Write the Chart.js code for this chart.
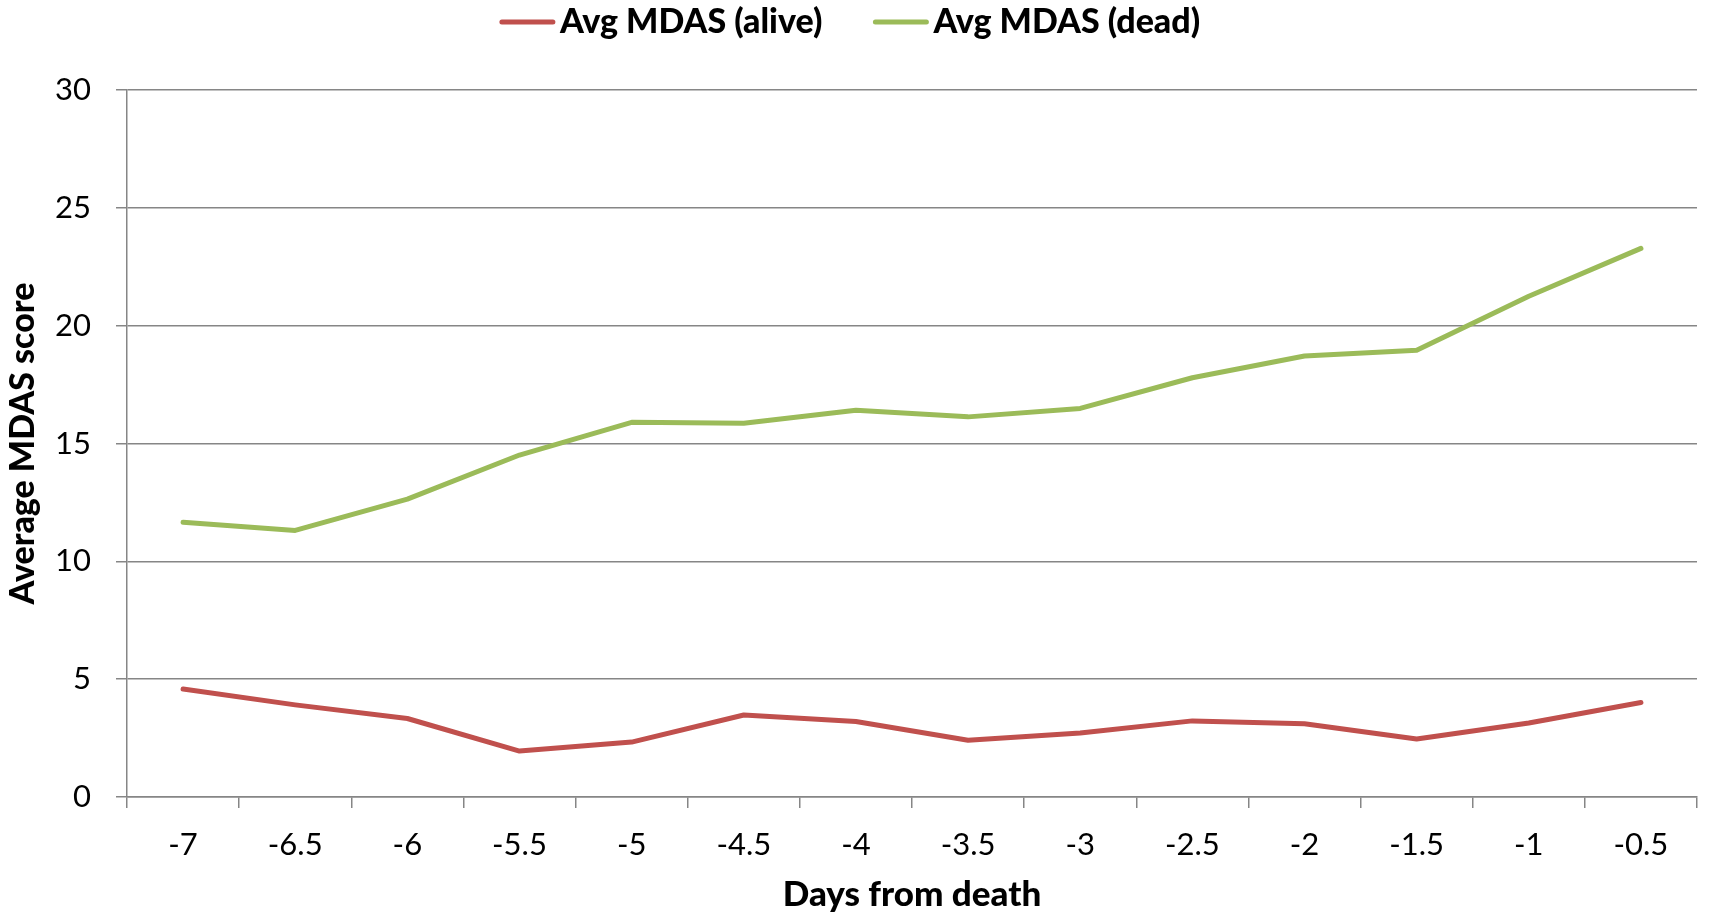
<!DOCTYPE html>
<html>
<head>
<meta charset="utf-8">
<title>Average MDAS score by days from death</title>
<script src="https://cdn.jsdelivr.net/npm/chart.js@4/dist/chart.umd.min.js"></script>
<style>
  html, body { margin: 0; padding: 0; background: #ffffff; }
  #wrap { width: 1710px; height: 916px; position: relative; }
</style>
</head>
<body>
<div id="wrap"><canvas id="chart"></canvas></div>
<script>
// Days before death (x categories)
const days = ['-7', '-6.5', '-6', '-5.5', '-5', '-4.5', '-4', '-3.5', '-3', '-2.5', '-2', '-1.5', '-1', '-0.5'];

// Average MDAS score per half-day
const mdasAlive = [4.58, 3.91, 3.33, 1.95, 2.33, 3.48, 3.20, 2.41, 2.72, 3.23, 3.11, 2.46, 3.14, 4.01];
const mdasDead  = [11.66, 11.31, 12.64, 14.51, 15.90, 15.86, 16.41, 16.13, 16.49, 17.79, 18.71, 18.96, 21.25, 23.28];

const seriesNames = ['Avg MDAS (alive)', 'Avg MDAS (dead)'];
const seriesColors = ['#C0504D', '#9BBB59'];

const FONT = 'Lato, "Open Sans", "DejaVu Sans", sans-serif';
const GRID = '#868686';

// Legend drawn across the top: short line sample followed by the series name
const topLegend = {
  id: 'topLegend',
  afterDraw(chart) {
    const ctx = chart.ctx;
    const sample = 55, gap = 5, spacing = 51, y = 22;
    ctx.save();
    ctx.font = '900 34px ' + FONT;
    const items = chart.data.datasets.map(ds => ({
      label: ds.label, color: ds.borderColor, w: ctx.measureText(ds.label).width
    }));
    const total = items.reduce((s, it) => s + sample + gap + it.w, 0) + spacing * (items.length - 1);
    let x = 850 - total / 2;
    items.forEach(it => {
      ctx.strokeStyle = it.color;
      ctx.lineWidth = 5;
      ctx.lineCap = 'round';
      ctx.beginPath();
      ctx.moveTo(x + 2, y);
      ctx.lineTo(x + sample - 2, y);
      ctx.stroke();
      ctx.fillStyle = '#000000';
      ctx.textAlign = 'left';
      ctx.textBaseline = 'middle';
      ctx.fillText(it.label, x + sample + gap, y);
      x += sample + gap + it.w + spacing;
    });
    ctx.restore();
  }
};

const lineStyle = {
  borderWidth: 5,
  borderCapStyle: 'round',
  borderJoinStyle: 'round',
  pointRadius: 0,
  tension: 0
};

new Chart(document.getElementById('chart'), {
  type: 'line',
  data: {
    labels: days,
    datasets: [
      Object.assign({
        label: seriesNames[0],
        data: mdasAlive,
        borderColor: seriesColors[0],
        backgroundColor: seriesColors[0]
      }, lineStyle),
      Object.assign({
        label: seriesNames[1],
        data: mdasDead,
        borderColor: seriesColors[1],
        backgroundColor: seriesColors[1]
      }, lineStyle)
    ]
  },
  options: {
    responsive: true,
    maintainAspectRatio: false,
    animation: false,
    devicePixelRatio: 1,
    layout: { padding: { left: 0, right: 13, top: 90, bottom: 0 } },
    plugins: {
      legend: { display: false },
      tooltip: { enabled: false }
    },
    scales: {
      x: {
        type: 'category',
        offset: true,
        afterFit(scale) { scale.height = 119; },
        grid: {
          offset: true,
          drawOnChartArea: false,
          drawTicks: true,
          tickLength: 11,
          color: GRID,
          lineWidth: 1.5
        },
        border: { display: true, color: GRID, width: 1.5 },
        ticks: {
          color: '#000000',
          font: { family: FONT, size: 31 },
          padding: 18,
          maxRotation: 0,
          autoSkip: false
        },
        title: {
          display: true,
          text: 'Days from death',
          color: '#000000',
          font: { family: FONT, size: 35, weight: '900' },
          padding: { top: 0, bottom: 0 }
        }
      },
      y: {
        min: 0,
        max: 30,
        afterFit(scale) { scale.width = 127; },
        ticks: {
          stepSize: 5,
          color: '#000000',
          font: { family: FONT, size: 31 },
          padding: 25
        },
        grid: {
          color: GRID,
          lineWidth: 1.5,
          tickLength: 11,
          drawTicks: true
        },
        border: { display: true, color: GRID, width: 1.5 },
        title: {
          display: true,
          text: 'Average MDAS score',
          color: '#000000',
          font: { family: FONT, size: 34, weight: '900' },
          padding: { top: 3, bottom: 0 }
        }
      }
    }
  },
  plugins: [topLegend]
});
</script>
</body>
</html>
